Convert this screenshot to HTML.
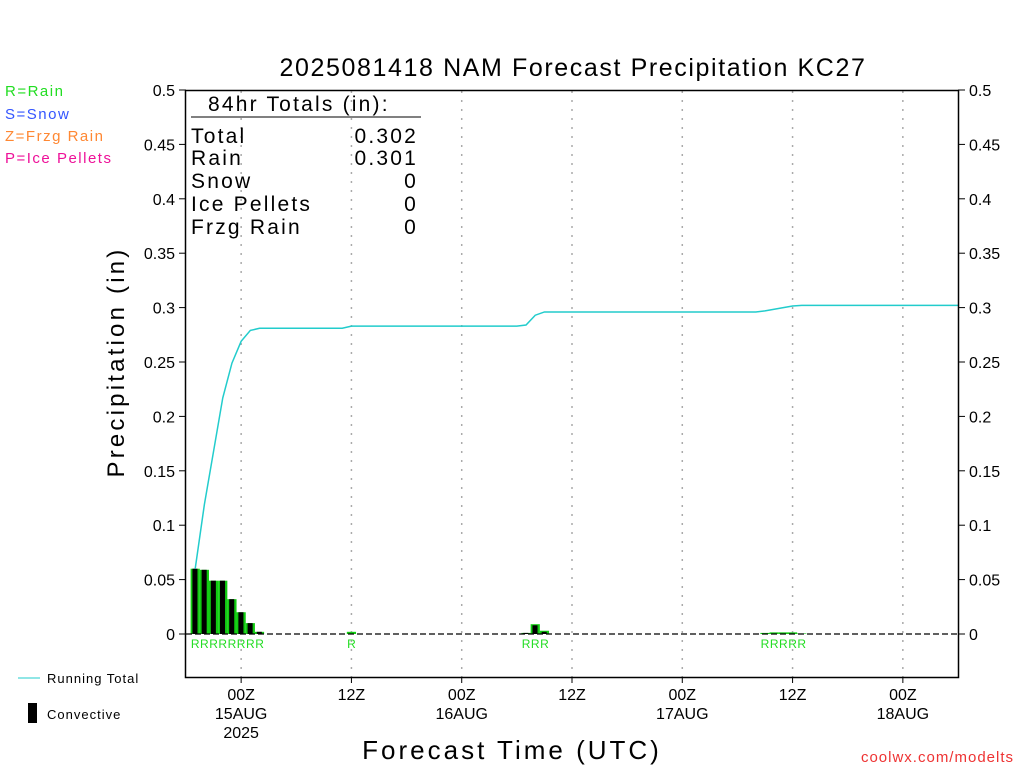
<!DOCTYPE html>
<html><head><meta charset="utf-8"><style>
body{margin:0;background:#fff;}
svg{display:block;font-family:"Liberation Sans",sans-serif;}
</style></head><body>
<svg id="c" width="1024" height="768" viewBox="0 0 1024 768">
<text x="573" y="76" font-size="25" text-anchor="middle" fill="#000" letter-spacing="1.6">2025081418 NAM Forecast Precipitation KC27</text>
<text x="5" y="96" font-size="15" fill="#22dd22" letter-spacing="1.5">R=Rain</text>
<text x="5" y="119" font-size="15" fill="#3355ff" letter-spacing="1.5">S=Snow</text>
<text x="5" y="141" font-size="15" fill="#ff8833" letter-spacing="1.5">Z=Frzg Rain</text>
<text x="5" y="163" font-size="15" fill="#ee1199" letter-spacing="1.5">P=Ice Pellets</text>
<text x="124" y="362" font-size="24" text-anchor="middle" transform="rotate(-90 124 362)" letter-spacing="3.2">Precipitation  (in)</text>
<text x="512" y="759" font-size="26" text-anchor="middle" letter-spacing="3">Forecast Time (UTC)</text>
<text x="1014" y="762" font-size="15" text-anchor="end" fill="#ee3333" letter-spacing="1">coolwx.com/modelts</text>
<line x1="18" y1="678" x2="40" y2="678" stroke="#22cccc" stroke-width="1"/>
<text x="47" y="683" font-size="13" letter-spacing="1">Running Total</text>
<rect x="28" y="703" width="9" height="20" fill="#000"/>
<text x="47" y="719" font-size="13" letter-spacing="1">Convective</text>
<g id="grid"></g><g id="bars"></g><g id="lbl"></g>
<line x1="186" y1="634" x2="958" y2="634" stroke="#000" stroke-width="1.2" stroke-dasharray="6,3"/>
<polyline id="run" fill="none" stroke="#22cccc" stroke-width="1.5"/>
<rect x="185.5" y="90.5" width="773" height="587" fill="none" stroke="#000" stroke-width="1.5"/>
<g font-size="21" font-weight="300" letter-spacing="2.2">
<text x="208" y="111">84hr Totals (in):</text>
<line x1="191" y1="117" x2="421" y2="117" stroke="#000"/>
<text x="191" y="143">Total</text><text x="418" y="143" text-anchor="end">0.302</text>
<text x="191" y="165">Rain</text><text x="418" y="165" text-anchor="end">0.301</text>
<text x="191" y="188">Snow</text><text x="418" y="188" text-anchor="end">0</text>
<text x="191" y="211">Ice Pellets</text><text x="418" y="211" text-anchor="end">0</text>
<text x="191" y="234">Frzg Rain</text><text x="418" y="234" text-anchor="end">0</text>
</g>
<g id="ax"></g>
</svg>
<script>
const yTicks=[0,0.05,0.1,0.15,0.2,0.25,0.3,0.35,0.4,0.45,0.5];
const yTickLabels=["0","0.05","0.1","0.15","0.2","0.25","0.3","0.35","0.4","0.45","0.5"];
const xTickHours=[6,18,30,42,54,66,78];
const xTickLabels=[["00Z","15AUG","2025"],["12Z"],["00Z","16AUG"],["12Z"],["00Z","17AUG"],["12Z"],["00Z","18AUG"]];
const barHours=[1,2,3,4,5,6,7,8,18,37,38,39,63,64,65,66,67];
const barPrecip=[0.06,0.059,0.049,0.049,0.032,0.02,0.01,0.002,0.002,0.001,0.009,0.003,0.001,0.0015,0.0015,0.0015,0.0005];
const barConv=[0.06,0.059,0.049,0.049,0.032,0.02,0.01,0.002,0,0.001,0.008,0.002,0,0,0,0,0];
const typeLabelHours=[1,2,3,4,5,6,7,8,18,37,38,39,63,64,65,66,67];
const X=h=>186+h*(772/84);
const Y=v=>634-v*1088;
const NS="http://www.w3.org/2000/svg";
function mk(t,p,a){const e=document.createElementNS(NS,t);for(const k in a)e.setAttribute(k,a[k]);p.appendChild(e);return e;}
const g=document.getElementById('grid'),ax=document.getElementById('ax'),bars=document.getElementById('bars'),lbl=document.getElementById('lbl');
yTicks.forEach((v,i)=>{
 let t=mk('text',ax,{x:175,y:Y(v)+6,'font-size':16,'text-anchor':'end'});t.textContent=yTickLabels[i];
 
 
 t=mk('text',ax,{x:969,y:Y(v)+6,'font-size':16});t.textContent=yTickLabels[i];
 
 
 let l=mk('line',ax,{x1:179,x2:186,y1:Y(v),y2:Y(v),stroke:'#000'});
 
 
 l=mk('line',ax,{x1:958,x2:965,y1:Y(v),y2:Y(v),stroke:'#000'});
 
 
});
xTickHours.forEach((h,i)=>{
 const gl=mk('line',g,{x1:X(h),x2:X(h),y1:91,y2:677,stroke:'#aaa','stroke-width':1.5,'stroke-dasharray':'2,7'});
 
 
 const tk=mk('line',ax,{x1:X(h),x2:X(h),y1:677,y2:683,stroke:'#000'});
 
 
 xTickLabels[i].forEach((s,j)=>{const t=mk('text',ax,{x:X(h),y:700+j*19,'font-size':16,'text-anchor':'middle'});t.textContent=s;
 
 });
});
const w=772/84;
barHours.forEach((h,i)=>{
 const r=mk('rect',bars,{x:X(h)-w/2,y:Y(barPrecip[i]),width:w,height:barPrecip[i]*1088,fill:'#11cc11'});
 
 
 if(barConv[i]>0){const c=mk('rect',bars,{x:X(h)-w*0.3,y:Y(barConv[i]),width:w*0.55,height:barConv[i]*1088,fill:'#000'});
 
 }
});
typeLabelHours.forEach(h=>{const t=mk('text',lbl,{x:X(h),y:648,'font-size':12,'text-anchor':'middle',fill:'#22dd22'});t.textContent='R';
 
 });
let cum=0,pts=[];const m={};barHours.forEach((h,i)=>m[h]=barPrecip[i]);
for(let h=1;h<=84;h++){cum+=(m[h]||0);pts.push(X(h)+','+Y(cum));}
document.getElementById('run').setAttribute('points',pts.join(' '));
</script>
</body></html>
